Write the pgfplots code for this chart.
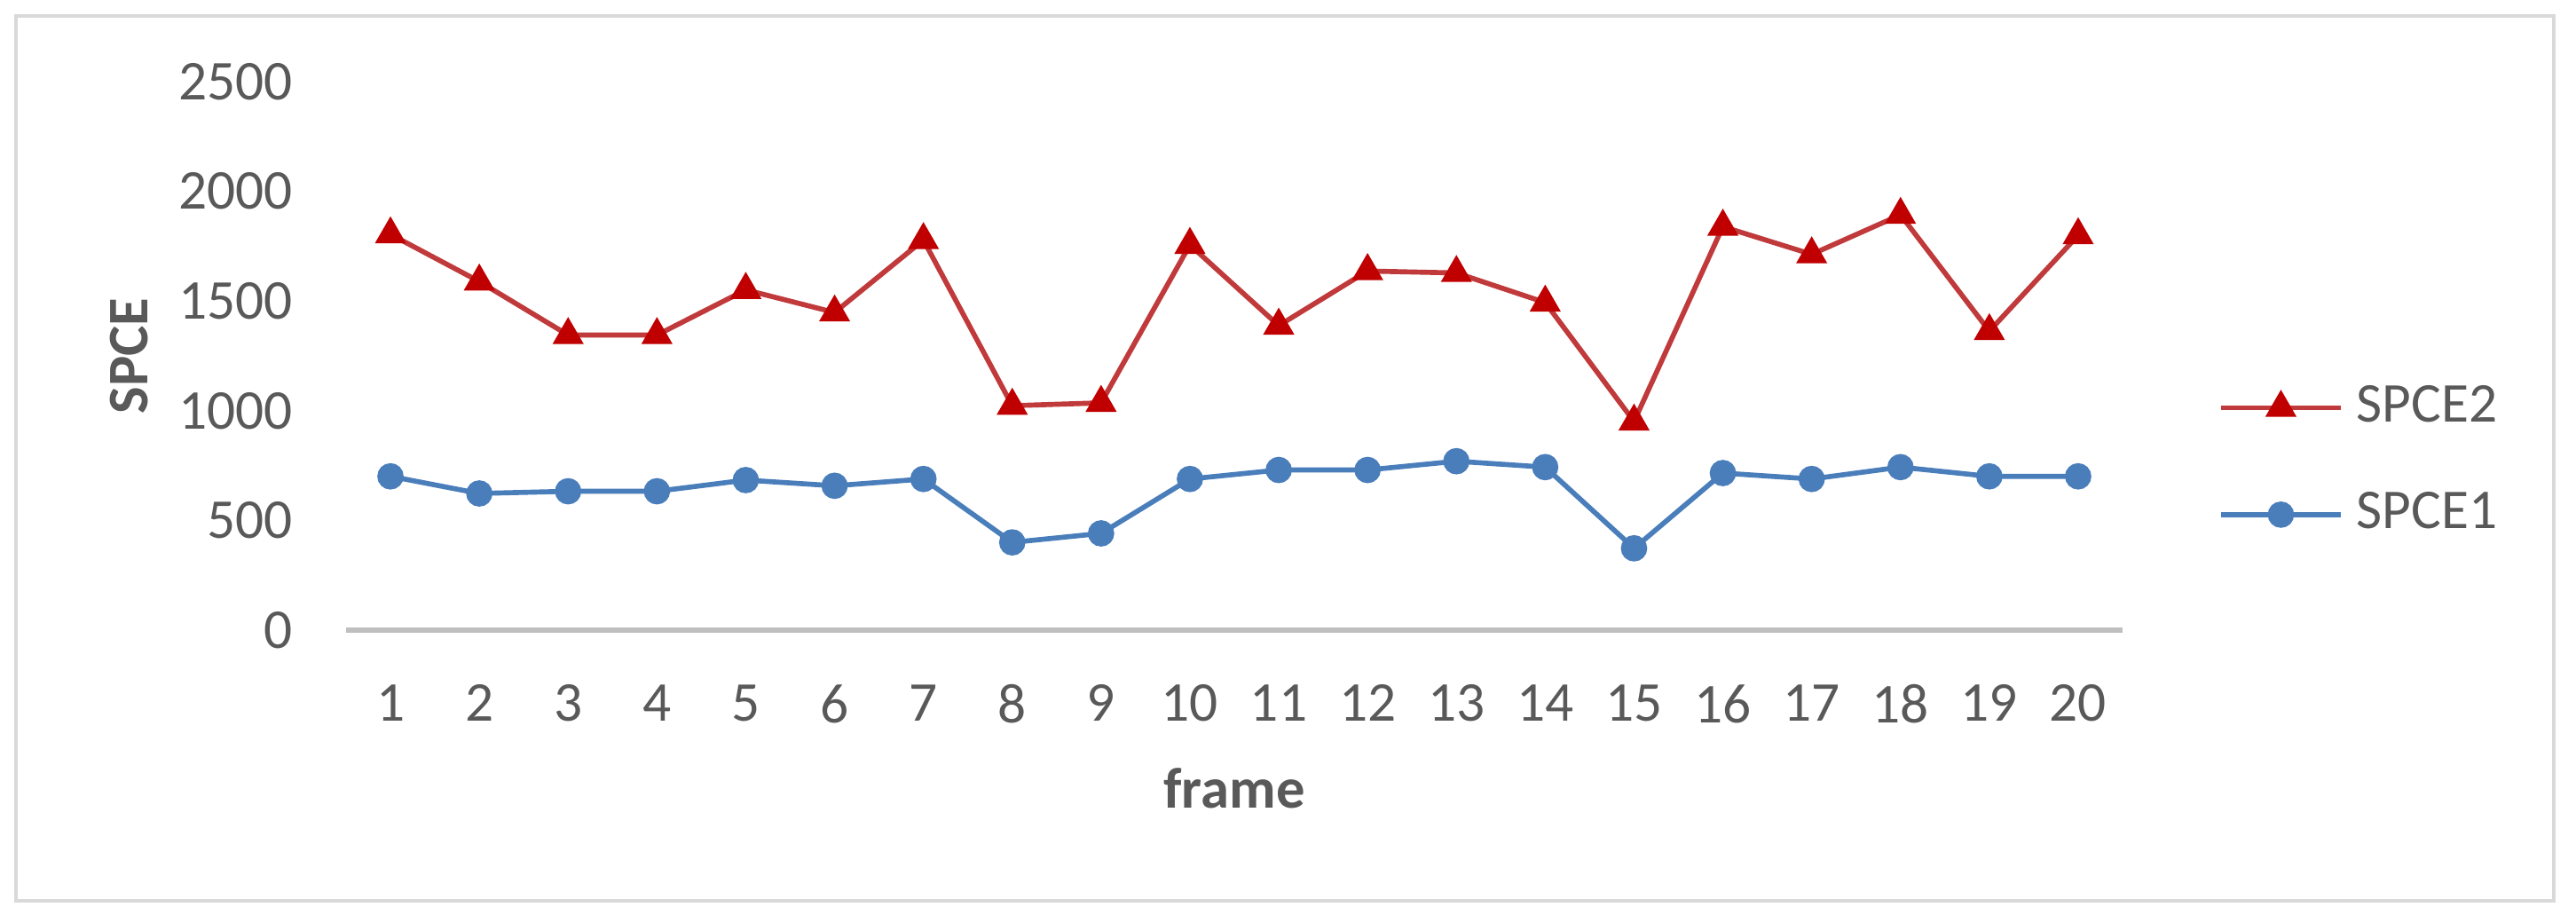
\documentclass[border=0pt]{standalone}
\usepackage{pgfplots}
\pgfplotsset{compat=1.18}
\usepackage{fontspec}
\setmainfont{Carlito}
\definecolor{txtgray}{HTML}{595959}
\definecolor{axgray}{HTML}{BFBFBF}
\definecolor{framegray}{HTML}{D9D9D9}
\definecolor{lred}{HTML}{C0393B}
\definecolor{mred}{HTML}{C00000}
\definecolor{lblue}{HTML}{4A7EBB}
\begin{document}
\begin{tikzpicture}
\path[use as bounding box] (-58.5pt,-49.35pt) rectangle (376.95pt,106.5pt);
\draw[framegray, line width=0.5pt] (-55.8pt,-45.75pt) rectangle (373.2pt,103.8pt);
\begin{axis}[
  at={(0,0)}, anchor=south west,
  scale only axis,
  width=300.3pt, height=92.7pt,
  xmin=0.5, xmax=20.5, ymin=0, ymax=2500,
  xtick={1,...,20},
  ytick={0,500,...,2500},
  separate axis lines,
  axis x line*=bottom,
  axis y line*=left,
  x axis line style={color=axgray, line width=1pt},
  y axis line style={draw=none},
  major tick length=0pt,
  /pgf/number format/assume math mode=true,
  /pgf/number format/1000 sep={},
  tick label style={font=\fontsize{9.5}{11}\selectfont, text=txtgray},
  yticklabel style={xshift=-5.5pt},
  xticklabel style={yshift=-5.7pt},
  every axis x label/.style={at={([yshift=-30pt]axis description cs:0.5,0)}, anchor=base, font=\fontsize{9.7}{11}\selectfont\bfseries, text=txtgray},
  every axis y label/.style={at={([xshift=-33.45pt]axis description cs:0,0.5)}, rotate=90, anchor=base, font=\fontsize{9.7}{11}\selectfont\bfseries, text=txtgray},
  xlabel={frame},
  ylabel={SPCE},
  legend style={at={(axis description cs:1.054,0.308)}, anchor=west, draw=none, fill=none, inner sep=0pt, outer sep=0pt,
    font=\fontsize{9.5}{11}\selectfont, text=txtgray, row sep=10.4pt,
    /tikz/every odd column/.append style={column sep=2.25pt},
    nodes={inner sep=0pt}},
  legend cell align=left,
  legend image code/.code={
    \draw[mark repeat=2, mark phase=2, #1] plot coordinates {(0pt,0pt) (10.125pt,0pt) (20.25pt,0pt)};
  },
  reverse legend,
]
\addplot[color=lblue, line width=0.85pt, mark=*, mark size=1.8pt, mark options={fill=lblue, draw=lblue, solid}]
coordinates {(1,701) (2,623) (3,633) (4,633) (5,684) (6,658) (7,689) (8,400) (9,441) (10,689) (11,730) (12,730) (13,770) (14,743) (15,373) (16,716) (17,689) (18,743) (19,701) (20,701)};
\addlegendentry{SPCE1}
\addplot[color=lred, line width=0.85pt, mark=triangle*, mark size=2.2pt, mark options={fill=mred, draw=mred, solid}]
coordinates {(1,1804) (2,1589) (3,1345) (4,1345) (5,1551) (6,1448) (7,1778) (8,1023) (9,1036) (10,1756) (11,1388) (12,1637) (13,1628) (14,1493) (15,951) (16,1839) (17,1713) (18,1893) (19,1363) (20,1800)};
\addlegendentry{SPCE2}
\end{axis}
\end{tikzpicture}
\end{document}
